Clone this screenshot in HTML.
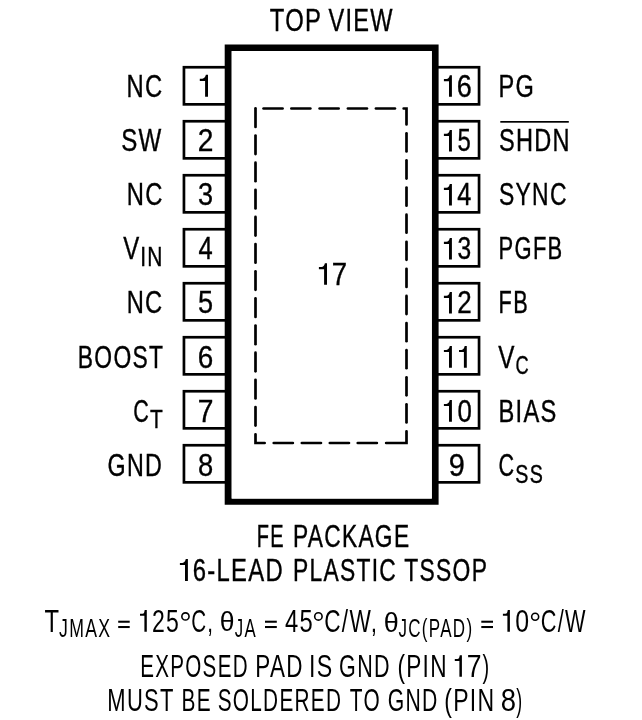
<!DOCTYPE html>
<html><head><meta charset="utf-8"><style>
html,body{margin:0;padding:0;background:#fff;}
svg{display:block;will-change:transform;}
text{font-family:"Liberation Sans",sans-serif;fill:#000;stroke:#000;stroke-width:0.35;vector-effect:non-scaling-stroke;}
text.lt{stroke:none;}
</style></head><body>
<svg width="642" height="720" viewBox="0 0 642 720">
<rect width="642" height="720" fill="#fff"/>
<rect x="183.95" y="67.25" width="44.05" height="37.10" fill="none" stroke="#000" stroke-width="2.7"/>
<rect x="435" y="67.25" width="44.05" height="37.10" fill="none" stroke="#000" stroke-width="2.7"/>
<rect x="183.95" y="121.25" width="44.05" height="37.10" fill="none" stroke="#000" stroke-width="2.7"/>
<rect x="435" y="121.25" width="44.05" height="37.10" fill="none" stroke="#000" stroke-width="2.7"/>
<rect x="183.95" y="175.25" width="44.05" height="37.10" fill="none" stroke="#000" stroke-width="2.7"/>
<rect x="435" y="175.25" width="44.05" height="37.10" fill="none" stroke="#000" stroke-width="2.7"/>
<rect x="183.95" y="229.25" width="44.05" height="37.10" fill="none" stroke="#000" stroke-width="2.7"/>
<rect x="435" y="229.25" width="44.05" height="37.10" fill="none" stroke="#000" stroke-width="2.7"/>
<rect x="183.95" y="283.25" width="44.05" height="37.10" fill="none" stroke="#000" stroke-width="2.7"/>
<rect x="435" y="283.25" width="44.05" height="37.10" fill="none" stroke="#000" stroke-width="2.7"/>
<rect x="183.95" y="337.25" width="44.05" height="37.10" fill="none" stroke="#000" stroke-width="2.7"/>
<rect x="435" y="337.25" width="44.05" height="37.10" fill="none" stroke="#000" stroke-width="2.7"/>
<rect x="183.95" y="391.25" width="44.05" height="37.10" fill="none" stroke="#000" stroke-width="2.7"/>
<rect x="435" y="391.25" width="44.05" height="37.10" fill="none" stroke="#000" stroke-width="2.7"/>
<rect x="183.95" y="445.25" width="44.05" height="37.10" fill="none" stroke="#000" stroke-width="2.7"/>
<rect x="435" y="445.25" width="44.05" height="37.10" fill="none" stroke="#000" stroke-width="2.7"/>
<path d="M224.7,44.5 H438.6 V504.7 H224.7 Z M231.7,51.1 V498.6 H431.8 V51.1 Z" fill="#000" fill-rule="evenodd"/>
<rect x="231.7" y="51.1" width="200.1" height="447.5" fill="#fff"/>
<line x1="255.50" y1="108.35" x2="255.50" y2="126.95" stroke="#000" stroke-width="2.7" stroke-linecap="round"/>
<line x1="255.50" y1="135.50" x2="255.50" y2="154.10" stroke="#000" stroke-width="2.7" stroke-linecap="round"/>
<line x1="255.50" y1="162.65" x2="255.50" y2="181.25" stroke="#000" stroke-width="2.7" stroke-linecap="round"/>
<line x1="255.50" y1="189.80" x2="255.50" y2="208.40" stroke="#000" stroke-width="2.7" stroke-linecap="round"/>
<line x1="255.50" y1="216.95" x2="255.50" y2="235.55" stroke="#000" stroke-width="2.7" stroke-linecap="round"/>
<line x1="255.50" y1="244.10" x2="255.50" y2="262.70" stroke="#000" stroke-width="2.7" stroke-linecap="round"/>
<line x1="255.50" y1="271.25" x2="255.50" y2="289.85" stroke="#000" stroke-width="2.7" stroke-linecap="round"/>
<line x1="255.50" y1="298.40" x2="255.50" y2="317.00" stroke="#000" stroke-width="2.7" stroke-linecap="round"/>
<line x1="255.50" y1="325.55" x2="255.50" y2="344.15" stroke="#000" stroke-width="2.7" stroke-linecap="round"/>
<line x1="255.50" y1="352.70" x2="255.50" y2="371.30" stroke="#000" stroke-width="2.7" stroke-linecap="round"/>
<line x1="255.50" y1="379.85" x2="255.50" y2="398.45" stroke="#000" stroke-width="2.7" stroke-linecap="round"/>
<line x1="255.50" y1="407.00" x2="255.50" y2="425.60" stroke="#000" stroke-width="2.7" stroke-linecap="round"/>
<path d="M255.5,434.35 L255.5,443.0 L264.65,443.0" fill="none" stroke="#000" stroke-width="2.7" stroke-linecap="round" stroke-linejoin="miter"/>
<line x1="273.75" y1="443.00" x2="292.85" y2="443.00" stroke="#000" stroke-width="2.7" stroke-linecap="round"/>
<line x1="301.85" y1="443.00" x2="320.95" y2="443.00" stroke="#000" stroke-width="2.7" stroke-linecap="round"/>
<line x1="329.85" y1="443.00" x2="348.95" y2="443.00" stroke="#000" stroke-width="2.7" stroke-linecap="round"/>
<line x1="357.75" y1="443.00" x2="376.85" y2="443.00" stroke="#000" stroke-width="2.7" stroke-linecap="round"/>
<path d="M386.15000000000003,443.0 L406.5,443.0 L406.5,431.35" fill="none" stroke="#000" stroke-width="2.7" stroke-linecap="round" stroke-linejoin="miter"/>
<line x1="406.50" y1="404.35" x2="406.50" y2="422.45" stroke="#000" stroke-width="2.7" stroke-linecap="round"/>
<line x1="406.50" y1="377.25" x2="406.50" y2="395.35" stroke="#000" stroke-width="2.7" stroke-linecap="round"/>
<line x1="406.50" y1="350.15" x2="406.50" y2="368.25" stroke="#000" stroke-width="2.7" stroke-linecap="round"/>
<line x1="406.50" y1="323.05" x2="406.50" y2="341.15" stroke="#000" stroke-width="2.7" stroke-linecap="round"/>
<line x1="406.50" y1="295.95" x2="406.50" y2="314.05" stroke="#000" stroke-width="2.7" stroke-linecap="round"/>
<line x1="406.50" y1="268.85" x2="406.50" y2="286.95" stroke="#000" stroke-width="2.7" stroke-linecap="round"/>
<line x1="406.50" y1="241.75" x2="406.50" y2="259.85" stroke="#000" stroke-width="2.7" stroke-linecap="round"/>
<line x1="406.50" y1="214.65" x2="406.50" y2="232.75" stroke="#000" stroke-width="2.7" stroke-linecap="round"/>
<line x1="406.50" y1="187.55" x2="406.50" y2="205.65" stroke="#000" stroke-width="2.7" stroke-linecap="round"/>
<line x1="406.50" y1="160.45" x2="406.50" y2="178.55" stroke="#000" stroke-width="2.7" stroke-linecap="round"/>
<line x1="406.50" y1="133.35" x2="406.50" y2="151.45" stroke="#000" stroke-width="2.7" stroke-linecap="round"/>
<path d="M406.5,124.45 L406.5,108.5 L403.65000000000003,108.5" fill="none" stroke="#000" stroke-width="2.7" stroke-linecap="round" stroke-linejoin="miter"/>
<line x1="263.55" y1="108.50" x2="282.55" y2="108.50" stroke="#000" stroke-width="2.7" stroke-linecap="round"/>
<line x1="291.35" y1="108.50" x2="310.35" y2="108.50" stroke="#000" stroke-width="2.7" stroke-linecap="round"/>
<line x1="319.65" y1="108.50" x2="338.65" y2="108.50" stroke="#000" stroke-width="2.7" stroke-linecap="round"/>
<line x1="347.95" y1="108.50" x2="366.95" y2="108.50" stroke="#000" stroke-width="2.7" stroke-linecap="round"/>
<line x1="375.95" y1="108.50" x2="394.95" y2="108.50" stroke="#000" stroke-width="2.7" stroke-linecap="round"/>
<rect x="500.3" y="121.0" width="68.5" height="1.7" fill="#000"/>
<text transform="translate(269.85,30.62) scale(0.7639,1)" font-size="31.18" letter-spacing="1.702">TOP</text>
<text transform="translate(328.46,30.62) scale(0.7562,1)" font-size="31.18" letter-spacing="1.719">VIEW</text>
<text transform="translate(126.53,96.67) scale(0.7549,1)" font-size="31.47" letter-spacing="1.722">NC</text>
<text transform="translate(121.17,151.42) scale(0.7665,1)" font-size="31.47" letter-spacing="1.696">SW</text>
<text transform="translate(126.83,205.42) scale(0.7549,1)" font-size="31.47" letter-spacing="1.722">NC</text>
<text transform="translate(123.36,259.12) scale(0.7618,1)" font-size="31.47">V</text>
<text transform="translate(140.24,266.12) scale(0.7781,1)" font-size="26.96" letter-spacing="1.671">IN</text>
<text transform="translate(126.73,313.43) scale(0.7525,1)" font-size="31.47" letter-spacing="1.728">NC</text>
<text transform="translate(77.80,367.52) scale(0.7266,1)" font-size="31.47" letter-spacing="1.789">BOOST</text>
<text transform="translate(133.28,421.52) scale(0.6853,1)" font-size="31.47">C</text>
<text transform="translate(150.11,427.82) scale(0.7850,1)" font-size="26.67">T</text>
<text transform="translate(107.61,475.62) scale(0.7398,1)" font-size="31.47" letter-spacing="1.757">GND</text>
<text transform="translate(498.44,96.67) scale(0.7488,1)" font-size="31.47" letter-spacing="1.736">PG</text>
<text transform="translate(498.89,151.42) scale(0.7487,1)" font-size="31.47" letter-spacing="1.736">SHDN</text>
<text transform="translate(498.92,205.42) scale(0.7284,1)" font-size="31.47" letter-spacing="1.785">SYNC</text>
<text transform="translate(498.57,259.43) scale(0.6981,1)" font-size="31.47" letter-spacing="1.862">PGFB</text>
<text transform="translate(498.59,313.43) scale(0.6909,1)" font-size="31.47" letter-spacing="1.882">FB</text>
<text transform="translate(498.35,367.52) scale(0.7715,1)" font-size="31.47">V</text>
<text transform="translate(515.44,374.12) scale(0.6841,1)" font-size="26.67">C</text>
<text transform="translate(498.43,421.52) scale(0.7527,1)" font-size="31.47" letter-spacing="1.727">BIAS</text>
<text transform="translate(498.48,475.62) scale(0.6853,1)" font-size="31.47">C</text>
<text transform="translate(515.27,482.62) scale(0.7381,1)" font-size="26.67" letter-spacing="1.761">SS</text>
<path d="M208.00,74.85 L208.00,96.85 L205.10,96.85 L205.10,80.90 L199.80,80.90 L199.80,78.70 L202.30,78.70 C204.10,78.70 205.40,77.05 205.90,74.85 Z" fill="#000"/>
<text transform="translate(197.67,151.42) scale(0.9124,1)" font-size="30.89">2</text>
<text transform="translate(198.04,205.42) scale(0.8777,1)" font-size="30.89">3</text>
<text transform="translate(198.49,259.43) scale(0.8255,1)" font-size="30.89">4</text>
<text transform="translate(197.99,313.43) scale(0.8777,1)" font-size="30.89">5</text>
<text transform="translate(197.65,367.52) scale(0.9025,1)" font-size="30.89">6</text>
<text transform="translate(197.63,421.52) scale(0.9144,1)" font-size="30.89">7</text>
<text transform="translate(197.90,475.62) scale(0.8852,1)" font-size="30.89">8</text>
<path d="M451.90,75.25 L451.90,96.85 L449.00,96.85 L449.00,81.23 L443.90,81.23 L443.90,79.03 L446.40,79.03 C448.20,79.03 449.30,77.45 449.80,75.25 Z" fill="#000"/>
<text transform="translate(456.80,96.67) scale(0.8744,1)" font-size="30.89">6</text>
<path d="M451.90,130.00 L451.90,151.60 L449.00,151.60 L449.00,135.98 L443.90,135.98 L443.90,133.78 L446.40,133.78 C448.20,133.78 449.30,132.20 449.80,130.00 Z" fill="#000"/>
<text transform="translate(457.52,151.42) scale(0.7753,1)" font-size="30.89">5</text>
<path d="M451.90,184.00 L451.90,205.60 L449.00,205.60 L449.00,189.98 L443.90,189.98 L443.90,187.78 L446.40,187.78 C448.20,187.78 449.30,186.20 449.80,184.00 Z" fill="#000"/>
<text transform="translate(457.29,205.42) scale(0.8190,1)" font-size="30.89">4</text>
<path d="M451.90,238.00 L451.90,259.60 L449.00,259.60 L449.00,243.98 L443.90,243.98 L443.90,241.78 L446.40,241.78 C448.20,241.78 449.30,240.20 449.80,238.00 Z" fill="#000"/>
<text transform="translate(457.54,259.43) scale(0.7958,1)" font-size="30.89">3</text>
<path d="M451.90,292.00 L451.90,313.60 L449.00,313.60 L449.00,297.98 L443.90,297.98 L443.90,295.78 L446.40,295.78 C448.20,295.78 449.30,294.20 449.80,292.00 Z" fill="#000"/>
<text transform="translate(457.18,313.43) scale(0.8414,1)" font-size="30.89">2</text>
<path d="M451.90,346.10 L451.90,367.70 L449.00,367.70 L449.00,352.08 L443.90,352.08 L443.90,349.88 L446.40,349.88 C448.20,349.88 449.30,348.30 449.80,346.10 Z" fill="#000"/>
<path d="M466.80,346.10 L466.80,367.70 L463.90,367.70 L463.90,352.08 L459.00,352.08 L459.00,349.88 L461.50,349.88 C463.30,349.88 464.20,348.30 464.70,346.10 Z" fill="#000"/>
<path d="M451.90,400.10 L451.90,421.70 L449.00,421.70 L449.00,406.08 L443.90,406.08 L443.90,403.88 L446.40,403.88 C448.20,403.88 449.30,402.30 449.80,400.10 Z" fill="#000"/>
<text transform="translate(457.47,421.52) scale(0.8365,1)" font-size="30.89">0</text>
<text transform="translate(448.72,475.62) scale(0.9356,1)" font-size="30.89">9</text>
<path d="M327.00,263.20 L327.00,284.80 L324.10,284.80 L324.10,269.18 L318.90,269.18 L318.90,266.98 L321.40,266.98 C323.20,266.98 324.40,265.40 324.90,263.20 Z" fill="#000"/>
<text transform="translate(331.87,284.62) scale(0.8972,1)" font-size="30.74">7</text>
<text transform="translate(256.64,546.73) scale(0.6353,1)" font-size="31.47" letter-spacing="2.046">FE</text>
<text transform="translate(292.91,546.73) scale(0.7235,1)" font-size="31.47" letter-spacing="1.797">PACKAGE</text>
<path d="M187.90,559.10 L187.90,580.90 L185.00,580.90 L185.00,565.12 L179.90,565.12 L179.90,562.91 L182.40,562.91 C184.20,562.91 185.30,561.30 185.80,559.10 Z" fill="#000"/>
<text transform="translate(192.66,580.83) scale(0.7580,1)" font-size="31.47" letter-spacing="1.715">6-LEAD</text>
<text transform="translate(292.90,580.83) scale(0.7258,1)" font-size="31.47" letter-spacing="1.791">PLASTIC</text>
<text transform="translate(404.27,580.83) scale(0.7262,1)" font-size="31.47" letter-spacing="1.790">TSSOP</text>
<text class="lt" transform="translate(44.58,631.80) scale(0.7493,1)" font-size="31.83">T</text>
<text class="lt" transform="translate(59.12,636.60) scale(0.6912,1)" font-size="25.58" letter-spacing="1.881">JMAX</text>
<rect x="118.2" y="620.7" width="11.50" height="2.05" fill="#000"/><rect x="118.2" y="626.0" width="11.50" height="2.05" fill="#000"/>
<path d="M146.80,610.00 L146.80,631.80 L144.40,631.80 L144.40,615.81 L140.00,615.81 L140.00,613.81 L142.50,613.81 C144.30,613.81 144.20,612.20 144.70,610.00 Z" fill="#000"/>
<text class="lt" transform="translate(151.95,631.80) scale(0.7238,1)" font-size="31.83" letter-spacing="1.796">25</text>
<circle cx="185.45" cy="616.45" r="3.60" fill="none" stroke="#000" stroke-width="1.6"/>
<text class="lt" transform="translate(191.15,631.80) scale(0.6473,1)" font-size="31.83" letter-spacing="2.008">C,</text>
<text class="lt" transform="translate(219.82,631.32) scale(0.9647,1)" font-size="27.52">θ</text>
<text class="lt" transform="translate(234.83,636.60) scale(0.6566,1)" font-size="25.58" letter-spacing="1.980">JA</text>
<rect x="265.0" y="620.7" width="11.80" height="2.05" fill="#000"/><rect x="265.0" y="626.0" width="11.80" height="2.05" fill="#000"/>
<text class="lt" transform="translate(285.05,631.80) scale(0.7471,1)" font-size="31.83" letter-spacing="1.740">45</text>
<circle cx="318.40" cy="616.40" r="3.70" fill="none" stroke="#000" stroke-width="1.6"/>
<text class="lt" transform="translate(324.25,631.80) scale(0.7102,1)" font-size="31.83" letter-spacing="1.831">C/W,</text>
<text class="lt" transform="translate(383.70,631.62) scale(0.9617,1)" font-size="28.07">θ</text>
<text class="lt" transform="translate(398.43,636.60) scale(0.6649,1)" font-size="25.58" letter-spacing="1.955">JC(PAD)</text>
<rect x="481.3" y="620.7" width="11.70" height="2.05" fill="#000"/><rect x="481.3" y="626.0" width="11.70" height="2.05" fill="#000"/>
<path d="M509.90,610.00 L509.90,631.80 L507.40,631.80 L507.40,615.81 L502.90,615.81 L502.90,613.81 L505.40,613.81 C507.20,613.81 507.30,612.20 507.80,610.00 Z" fill="#000"/>
<text class="lt" transform="translate(515.23,631.80) scale(0.7821,1)" font-size="31.83">0</text>
<circle cx="535.15" cy="616.75" r="3.50" fill="none" stroke="#000" stroke-width="1.6"/>
<text class="lt" transform="translate(540.69,631.80) scale(0.6819,1)" font-size="31.83" letter-spacing="1.907">C/W</text>
<text class="lt" transform="translate(140.21,676.70) scale(0.6470,1)" font-size="31.83" letter-spacing="2.009">EXPOSED</text>
<text class="lt" transform="translate(255.36,676.70) scale(0.7057,1)" font-size="31.83" letter-spacing="1.842">PAD</text>
<text class="lt" transform="translate(309.07,676.70) scale(0.7280,1)" font-size="31.83" letter-spacing="1.786">IS</text>
<text class="lt" transform="translate(339.12,676.70) scale(0.6759,1)" font-size="31.83" letter-spacing="1.923">GND</text>
<text class="lt" transform="translate(397.40,676.70) scale(0.7105,1)" font-size="31.83" letter-spacing="1.830">(PIN</text>
<path d="M461.90,655.20 L461.90,676.70 L459.40,676.70 L459.40,660.96 L454.80,660.96 L454.80,658.96 L457.30,658.96 C459.10,658.96 459.30,657.40 459.80,655.20 Z" fill="#000"/>
<text class="lt" transform="translate(466.64,676.70) scale(0.8354,1)" font-size="31.83">7</text>
<text class="lt" transform="translate(482.48,676.70) scale(0.6283,1)" font-size="31.83">)</text>
<text class="lt" transform="translate(107.30,710.80) scale(0.7038,1)" font-size="31.25" letter-spacing="1.847">MUST</text>
<text class="lt" transform="translate(181.49,710.80) scale(0.6670,1)" font-size="31.25" letter-spacing="1.949">BE</text>
<text class="lt" transform="translate(217.64,710.80) scale(0.6652,1)" font-size="31.25" letter-spacing="1.954">SOLDERED</text>
<text class="lt" transform="translate(349.74,710.80) scale(0.6666,1)" font-size="31.25" letter-spacing="1.950">TO</text>
<text class="lt" transform="translate(387.64,710.80) scale(0.6780,1)" font-size="31.25" letter-spacing="1.917">GND</text>
<text class="lt" transform="translate(444.17,710.80) scale(0.7375,1)" font-size="31.25" letter-spacing="1.763">(PIN</text>
<text class="lt" transform="translate(500.82,710.80) scale(0.8783,1)" font-size="31.25">8</text>
<text class="lt" transform="translate(516.29,710.80) scale(0.5675,1)" font-size="31.25">)</text>
</svg>
</body></html>
